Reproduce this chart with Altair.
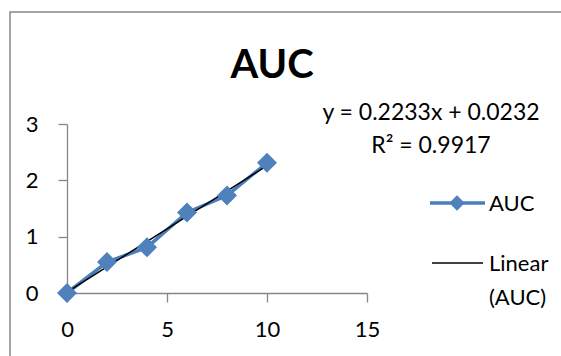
import altair as alt
import pandas as pd

# ---- data ----
x_vals = [0, 2, 4, 6, 8, 10]
auc_vals = [0.0, 0.55, 0.81, 1.43, 1.73, 2.31]
x_ticks = [0, 5, 10, 15]
y_ticks = [0, 1, 2, 3]
title_text = ["AUC"]
eq_line1 = ["y = 0.2233x + 0.0232"]
eq_line2 = ["R² = 0.9917"]
legend_series = ["AUC"]
legend_trend1 = ["Linear"]
legend_trend2 = ["(AUC)"]

FONT = "Lato"
BLUE = "#4A7EBB"
GRAY = "#868686"

df = pd.DataFrame({"x": x_vals, "y": auc_vals})

x_enc = alt.X("x:Q", scale=alt.Scale(domain=[0, 15], nice=False, zero=False),
              axis=alt.Axis(values=x_ticks, format="d", title=None, grid=False, domainColor=GRAY,
                            tickColor=GRAY, tickSize=9, labelPadding=17, labelFontSize=22,
                            labelOverlap=False, labelFlush=False,
                            labelFont=FONT, labelColor="black", domainWidth=1.3, tickWidth=1.3))
y_enc = alt.Y("y:Q", scale=alt.Scale(domain=[0, 3], nice=False),
              axis=alt.Axis(values=y_ticks, format="d", title=None, grid=False, domainColor=GRAY,
                            tickColor=GRAY, tickSize=9, labelPadding=20, labelFontSize=22,
                            labelOverlap=False, labelFlush=False,
                            labelFont=FONT, labelColor="black", domainWidth=1.3, tickWidth=1.3))

base = alt.Chart(df)

series_line = base.mark_line(color=BLUE, strokeWidth=3.5).encode(x=x_enc, y=y_enc)
series_pts = base.mark_point(shape="diamond", filled=True, color="#4F81BD", size=400,
                             opacity=1).encode(x="x:Q", y="y:Q")
trend = base.transform_regression("x", "y", extent=[0, 10]).mark_line(
    color="black", strokeWidth=1.5).encode(x="x:Q", y="y:Q")

one = pd.DataFrame({"a": [0]})

# chart frame
frame = alt.Chart(one).mark_rect(
    fill=None, stroke=GRAY, strokeWidth=1.5).encode(
    x=alt.value(-57), y=alt.value(-112), x2=alt.value(600), y2=alt.value(400))


def label(texts, x, y, size=22, weight="normal", align="left", baseline="middle"):
    return alt.Chart(pd.DataFrame({"t": texts})).mark_text(
        font=FONT, fontSize=size, fontWeight=weight, align=align, baseline=baseline,
        color="black").encode(text="t:N", x=alt.value(x), y=alt.value(y))


title = label(title_text, 205, -46, size=40, weight="bold", align="center", baseline="alphabetic")
eq1 = label(eq_line1, 364, -4, size=23, align="center", baseline="alphabetic")
eq2 = label(eq_line2, 364, 29, size=23, align="center", baseline="alphabetic")

leg_line1 = alt.Chart(one).mark_rule(color=BLUE, strokeWidth=3.5).encode(
    x=alt.value(363), x2=alt.value(418), y=alt.value(79))
leg_pt1 = alt.Chart(one).mark_point(
    shape="diamond", filled=True, color="#4F81BD", size=240, opacity=1).encode(
    x=alt.value(390), y=alt.value(79))
leg_txt1 = label(legend_series, 422, 80)
leg_line2 = alt.Chart(one).mark_rule(color="black", strokeWidth=1.5).encode(
    x=alt.value(365), x2=alt.value(416), y=alt.value(139))
leg_txt2 = label(legend_trend1, 422, 140)
leg_txt3 = label(legend_trend2, 422, 174)

chart = alt.layer(
    frame, series_line, trend, series_pts, title, eq1, eq2,
    leg_line1, leg_pt1, leg_txt1, leg_line2, leg_txt2, leg_txt3
).properties(
    width=300, height=169,
    padding={"left": 67, "top": 124, "right": 194, "bottom": 63},
    autosize=alt.AutoSizeParams(type="none"),
    background="white",
).configure_view(stroke=None)

chart.save("out.html", embed_options={"renderer": "svg", "actions": False})
